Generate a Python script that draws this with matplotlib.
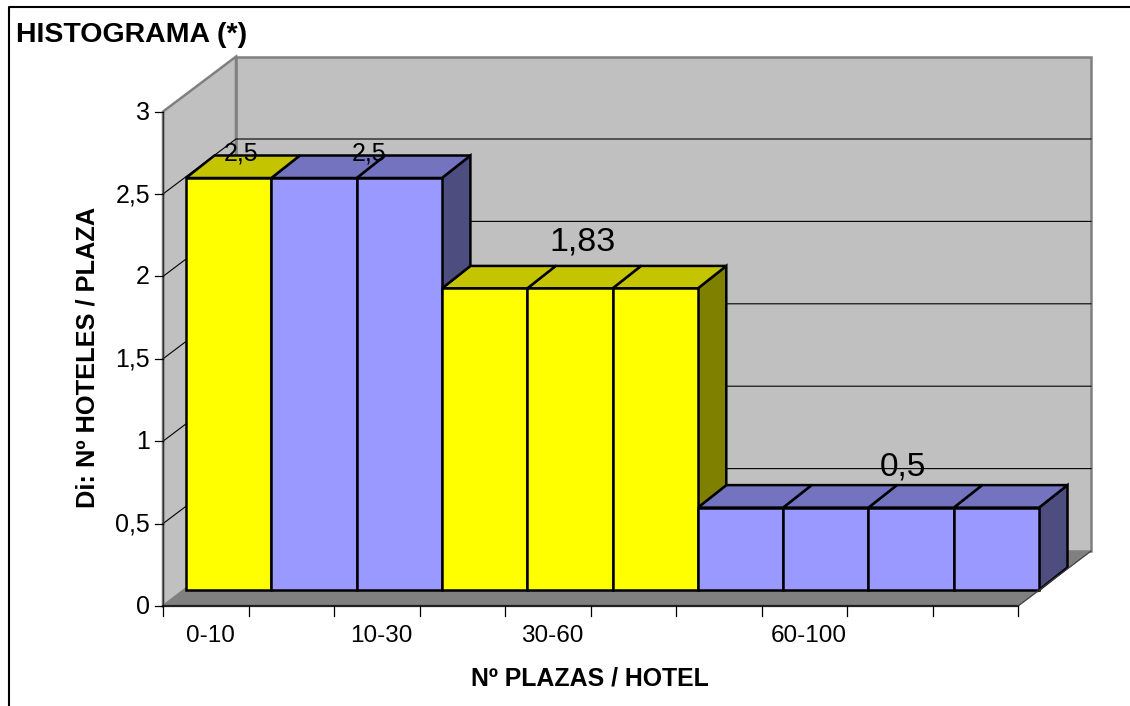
import matplotlib
matplotlib.use("Agg")
import matplotlib.pyplot as plt
from matplotlib.patches import Polygon

plt.rcParams['font.family'] = ['Liberation Sans', 'DejaVu Sans']

# one entry per slot of the chart, slots are all the same width
values = [2.5, 2.5, 2.5, 1.83, 1.83, 1.83, 0.5, 0.5, 0.5, 0.5]
is_yellow = [True, False, False, True, True, True, False, False, False, False]
y_ticks = [0, 0.5, 1, 1.5, 2, 2.5, 3]
y_tick_labels = ['0', '0,5', '1', '1,5', '2', '2,5', '3']
class_labels = ['0-10', '10-30', '30-60', '60-100']
class_positions = [0.5, 2.5, 4.5, 7.5]
value_labels = ['2,5', '2,5', '1,83', '0,5']
value_positions = [0.5, 2.0, 4.5, 8.25]
value_heights = [2.5, 2.5, 1.83, 0.5]
value_sizes = [18, 18, 24.5, 24]
value_lifts = [41, 41, 62, 57]

W, H = 1130, 706
X0, Y0 = 163, 606      # front left corner of the floor, pixels
UX = 85.5              # pixels per slot
BAR_UX = 85.3          # bars come out a little narrower than the slots
UY = 164.8             # pixels per unit of value

fig = plt.figure(figsize=(W / 100, H / 100), dpi=100, facecolor='white')
ax = fig.add_axes([0, 0, 1, 1])
ax.set_xlim(0, W)
ax.set_ylim(H, 0)
ax.axis('off')


def pt(x, v, depth=(0, 0), ux=UX):
    # oblique projection: slot, value, and an offset into the depth of the box
    return (X0 + x * ux + depth[0], Y0 - v * UY + depth[1])


def bp(x, v, depth):
    return pt(x, v, depth, BAR_UX)


def poly(points, fc, ec='black', lw=1.8, z=2):
    ax.add_patch(Polygon(points, closed=True, facecolor=fc, edgecolor=ec, linewidth=lw,
                         joinstyle='miter', zorder=z))


BACK = (73, -55)
BAR_FRONT = (23, -16)
BAR_BACK = (51.5, -38.5)
n = len(values)
vmax = y_ticks[-1]

# walls and floor
poly([pt(0, 0), pt(n, 0), pt(n, 0, BACK), pt(0, 0, BACK)], '#808080', '#808080', 1.0, z=1)
poly([pt(0, 0, BACK), pt(n, 0, BACK), pt(n, vmax, BACK), pt(0, vmax, BACK)], '#c0c0c0', '#808080', 1.8, z=1)
poly([pt(0, 0), pt(0, 0, BACK), pt(0, vmax, BACK), pt(0, vmax)], '#c0c0c0', '#808080', 1.8, z=1)

# gridlines
for v in y_ticks[1:-1]:
    a, b, c = pt(0, v), pt(0, v, BACK), pt(n, v, BACK)
    ax.plot([a[0], b[0], c[0]], [a[1], b[1], c[1]], color='black', lw=0.8, zorder=1.5)

colors = {True: ('#ffff00', '#c4c400', '#808000'), False: ('#9999ff', '#7373bf', '#4d4d80')}
for i, v in reversed(list(enumerate(values))):
    front, top, side = colors[is_yellow[i]]
    # side face only where it shows above the next bar
    next_v = values[i + 1] if i + 1 < n else 0
    if v > next_v:
        poly([bp(i + 1, next_v, BAR_FRONT), bp(i + 1, next_v, BAR_BACK),
              bp(i + 1, v, BAR_BACK), bp(i + 1, v, BAR_FRONT)], side, z=3)
    poly([bp(i, v, BAR_FRONT), bp(i + 1, v, BAR_FRONT), bp(i + 1, v, BAR_BACK), bp(i, v, BAR_BACK)], top, z=3)
for i, v in enumerate(values):
    front = colors[is_yellow[i]][0]
    poly([bp(i, 0, BAR_FRONT), bp(i + 1, 0, BAR_FRONT), bp(i + 1, v, BAR_FRONT), bp(i, v, BAR_FRONT)], front, z=4)

# axes lines and ticks
ax.plot(*zip(pt(0, 0), pt(0, vmax)), color='#303030', lw=1.0, zorder=5)
ax.plot(*zip(pt(0, 0), pt(n, 0)), color='#202020', lw=1.6, zorder=5)
ax.plot(*zip(pt(n, 0), pt(n, 0, BACK)), color='#404040', lw=0.8, zorder=5)
for v, lab in zip(y_ticks, y_tick_labels):
    p = pt(0, v)
    ax.plot([p[0] - 8, p[0]], [p[1], p[1]], color='black', lw=0.9, zorder=5)
    ax.text(p[0] - 13, p[1] + 1, lab, ha='right', va='center', fontsize=18)
for i in range(n + 1):
    p = pt(i, 0)
    ax.plot([p[0], p[0]], [p[1], p[1] + 10], color='black', lw=0.9, zorder=5)
for x, lab in zip(class_positions, class_labels):
    p = pt(x, 0)
    ax.text(p[0] + 5, 636.5, lab, ha='center', va='center', fontsize=17.5)

# value labels float up and to the right of their slot
for x, v, lab, size, lift in zip(value_positions, value_heights, value_labels, value_sizes, value_lifts):
    p = pt(x, v)
    ax.text(p[0] + 35, p[1] - lift, lab, ha='center', va='center', fontsize=size, zorder=6)

# titles
ax.text(16, 34.5, 'HISTOGRAMA (*)', fontsize=20.5, fontweight='bold', ha='left', va='center')
ax.text(590, 678, 'Nº PLAZAS / HOTEL', fontsize=17.9, fontweight='bold', ha='center', va='center')
ax.text(88, 357, 'Di: Nº HOTELES / PLAZA', fontsize=18.3, fontweight='bold', rotation=90, ha='center', va='center')

# chart area border, cut off by the picture on the right and at the bottom
ax.plot([8.5, 8.5, W], [H, 6.5, 6.5], color='black', lw=1.5, zorder=7)

fig.savefig('out.png', dpi=100, facecolor='white')
